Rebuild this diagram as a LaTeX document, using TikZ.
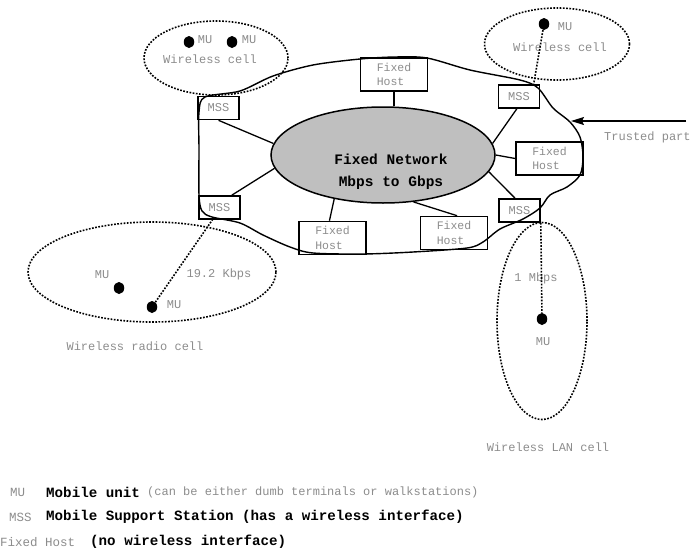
\documentclass[tikz,border=0pt]{standalone}
\usepackage{fontspec}
\setmainfont{Liberation Mono}
\usetikzlibrary{arrows.meta,calc,shapes.geometric}
\definecolor{lbl}{gray}{0.55}
\definecolor{netfill}{gray}{0.75}
\tikzset{
  lab/.style={text=lbl, font=\fontsize{12}{14}\selectfont, inner sep=0pt},
  mssbox/.style={draw, line width=1.6pt, minimum width=41pt, minimum height=23pt, inner sep=0pt, text=lbl, font=\fontsize{12}{14}\selectfont},
  fhbox/.style={draw, line width=1.6pt, minimum width=67pt, minimum height=33pt, inner sep=0pt, text=lbl, font=\fontsize{11.5}{14.5}\selectfont, align=left},
  mudot/.style={ellipse, fill=black, minimum width=10.5pt, minimum height=12pt, inner sep=0pt},
  cellshape/.style={ellipse, draw, line width=1.6pt, dash pattern=on 1.7pt off 1.5pt, inner sep=0pt},
  link/.style={line width=1.3pt},
  radio/.style={line width=1.6pt, dash pattern=on 1.7pt off 1.5pt},
  legbold/.style={font=\fontsize{14.2}{16}\selectfont\bfseries, inner sep=0pt, anchor=west},
  leggrey/.style={text=lbl, font=\fontsize{12.5}{14}\selectfont, inner sep=0pt, anchor=west},
}
\begin{document}
\begin{tikzpicture}[x=1pt,y=-1pt]
\useasboundingbox (0,0) rectangle (690,552);

% trusted part boundary
\draw[line width=1.4pt] plot[smooth cycle, tension=0.5] coordinates {
 (205,97) (240,91) (273,76) (313,65) (360,59) (395,57) (427,58) (470,70)
 (520,80) (538,88) (553,108) (570,122) (580,137) (583,157) (580,175)
 (567,187) (550,195) (540,208) (523,219) (500,229) (483,242) (467,248)
 (413,252) (363,254) (313,253) (290,247) (263,235) (240,223) (212,217)
 (202,211) (199,195) (199,150) (199,112)};

% wireless cells
\node[cellshape, minimum width=144pt, minimum height=74pt] (cellA) at (216,58) {};
\node[cellshape, minimum width=145pt, minimum height=72pt] (cellB) at (557,44) {};
\node[cellshape, minimum width=248pt, minimum height=100pt] (cellC) at (152,272) {};
\node[cellshape, minimum width=90pt, minimum height=197pt] (cellD) at (542,321) {};

% fixed network
\node[ellipse, draw, fill=netfill, line width=1.5pt, minimum width=224pt, minimum height=96pt, inner sep=0pt] (net) at (383,155) {};
\node[font=\fontsize{14.5}{22}\selectfont\bfseries, align=center, inner sep=0pt] (nettxt) at (391,172) {Fixed Network\\Mbps to Gbps};

% MSS
\node[mssbox] (mssA) at (218.5,108) {MSS};
\node[mssbox] (mssB) at (519,96.5) {MSS};
\node[mssbox] (mssC) at (219.5,207.5) {MSS};
\node[mssbox] (mssD) at (519.5,210.5) {MSS};

% fixed hosts
\node[fhbox] (fhA) at (394,74.5) {Fixed\\Host};
\node[fhbox] (fhB) at (549.5,158.5) {Fixed\\Host};
\node[fhbox] (fhC) at (332.5,238) {Fixed\\Host};
\node[fhbox] (fhD) at (454,233) {Fixed\\Host};

% links to network
\draw[link] (mssA.south) -- (net.174.7);
\draw[link] (mssC.45) -- (net.187);
\draw[link] (fhC.100) -- (net.222.5);
\draw[link] (fhD.80) -- (net.303);
\draw[link] (mssD.110) -- (net.351.6);
\draw[link] (fhB.west) -- (net.east);
\draw[link] (mssB.260) -- (net.6.8);
\draw[link] (fhA.south) -- (fhA.south |- net.north);

% mobile units
\node[mudot] (muA1) at (189,42) {};
\node[mudot] (muA2) at (232,42) {};
\node[mudot] (muB) at (544,24) {};
\node[mudot] (muC1) at (119,288) {};
\node[mudot] (muC2) at (152,307) {};
\node[mudot] (muD) at (542,319) {};

\node[lab] (tA1) at (205,40) {MU};
\node[lab] (tA2) at (249,40) {MU};
\node[lab] (tB) at (565,27) {MU};
\node[lab] (tC1) at (102,275) {MU};
\node[lab] (tC2) at (174,305) {MU};
\node[lab] (tD) at (543,342) {MU};

\node[lab] (wA) at (210,59) {Wireless cell};
\node[lab] (wB) at (560,47) {Wireless cell};
\node[lab] (rC) at (219,274) {19.2 Kbps};
\node[lab] (wC) at (135,346) {Wireless radio cell};
\node[lab] (rD) at (536,278) {1 Mbps};
\node[lab] (wD) at (548,447) {Wireless LAN cell};

% radio links
\draw[radio] (muB) -- (mssB.40);
\draw[radio] (muC2) -- (mssC.240);
\draw[radio] (mssD.south east) -- (muD);

% trusted part arrow
\coordinate (trA) at (686,121);
\coordinate (trB) at (571,121);
\draw[line width=1.4pt, -{Stealth[length=13pt,width=8pt,inset=2pt]}] (trA) -- (trB);
\node[lab, anchor=west] (trT) at (604,137) {Trusted part};

% legend
\node[leggrey] (lgMU) at (10,492) {MU};
\node[legbold] (lgMUd) at (46,492) {Mobile unit};
\node[leggrey, font=\fontsize{12}{14}\selectfont] (lgMUx) at (147,492) {(can be either dumb terminals or walkstations)};
\node[leggrey] (lgMSS) at (9,517) {MSS};
\node[legbold] (lgMSSd) at (46,517) {Mobile Support Station (has a wireless interface)};
\node[leggrey] (lgFH) at (0,542) {Fixed Host};
\node[legbold] (lgFHd) at (90,542) {(no wireless interface)};
\end{tikzpicture}
\end{document}
